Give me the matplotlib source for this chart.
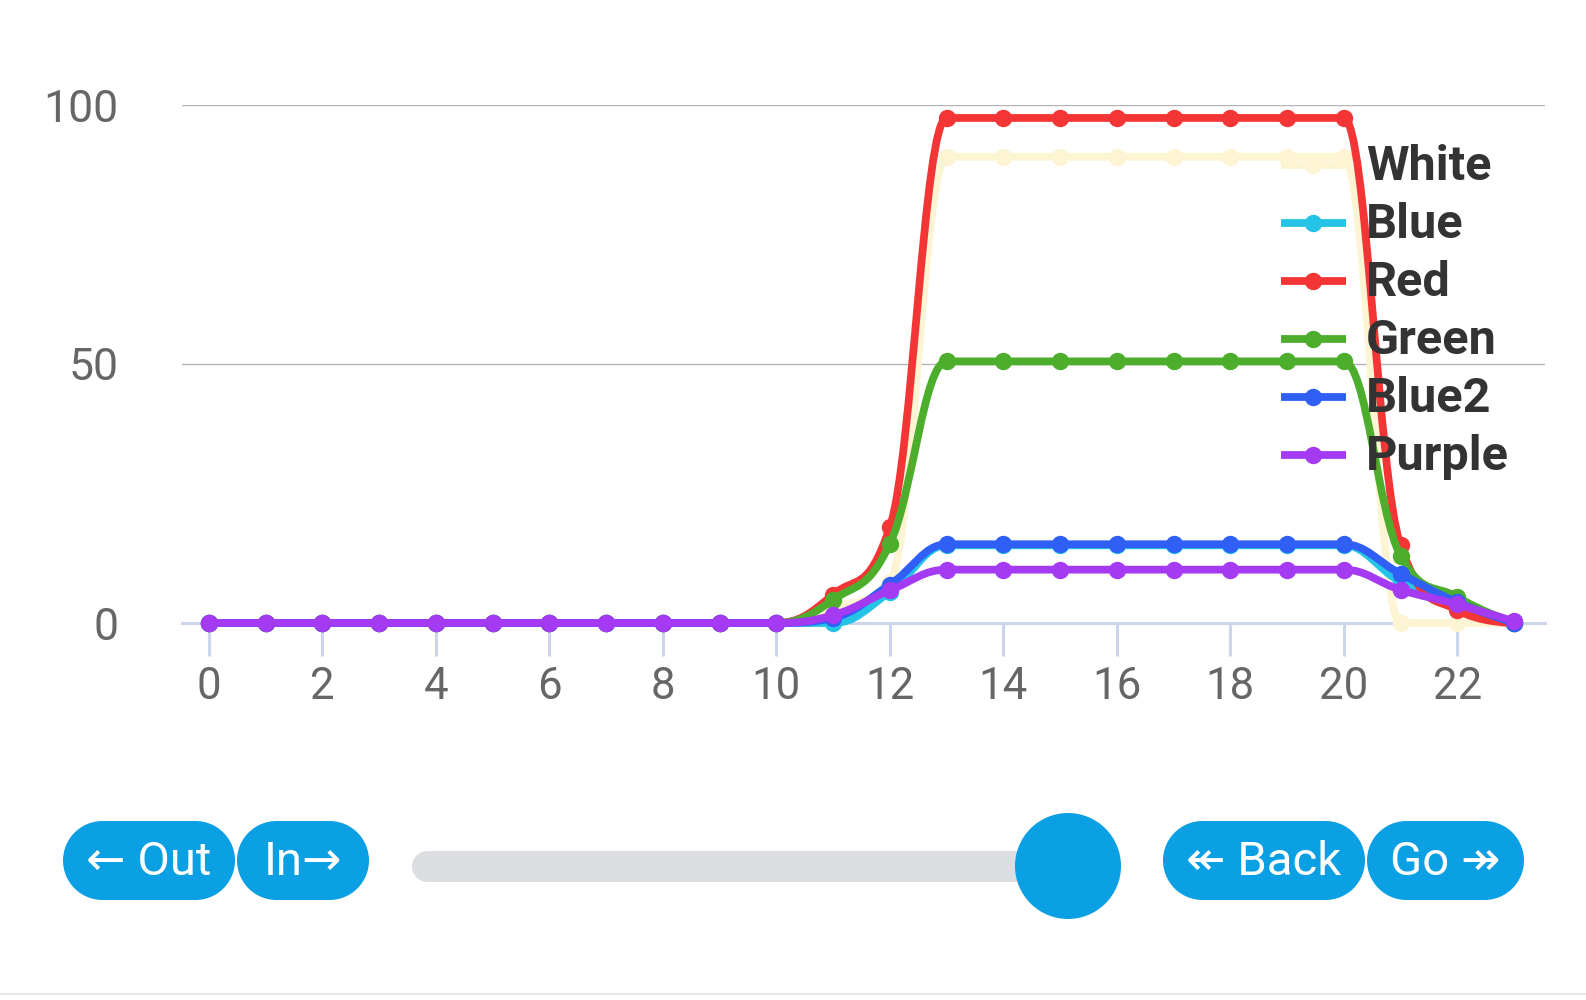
import numpy as np
import matplotlib
matplotlib.use('Agg')
import matplotlib.pyplot as plt
from matplotlib.path import Path
from matplotlib.patches import PathPatch, Rectangle, Circle
from matplotlib.lines import Line2D

plt.rcParams['font.family'] = ['Roboto', 'DejaVu Sans']

# dane
godziny = list(range(24))
white = [0] * 11 + [3, 8] + [90] * 8 + [0, 0, 0]
blue = [0] * 11 + [0, 6] + [15] * 8 + [8, 4, 0]
red = [0] * 11 + [5.5, 18.5] + [97.5] * 8 + [15, 2.5, 0]
green = [0] * 11 + [4.5, 15.3] + [50.5] * 8 + [13, 5, 0]
blue2 = [0] * 11 + [1, 7.4] + [15.2] * 8 + [9.5, 4, 0]
purple = [0] * 11 + [1.5, 6.3] + [10.3] * 8 + [6.4, 3.6, 0.3]

nazwy = ['White', 'Blue', 'Red', 'Green', 'Blue2', 'Purple']
serie = [white, blue, red, green, blue2, purple]
kolory = ['#fcf4d2', '#25c3e6', '#f43535', '#4cae2c', '#2f5ff5', '#a43af2']

x_ticki = list(range(0, 23, 2))
y_ticki = [0, 50, 100]


def spline(xs, ys, smoothing=1.5):
    # krzywa jak w highcharts (spline)
    n = len(xs)
    denom = smoothing + 1
    lewe = [None] * n
    prawe = [None] * n
    for i in range(n):
        x, y = xs[i], ys[i]
        if i == 0 or i == n - 1:
            lewe[i] = (x, y)
            prawe[i] = (x, y)
            continue
        lx, ly = xs[i - 1], ys[i - 1]
        nx, ny = xs[i + 1], ys[i + 1]
        lcx = (smoothing * x + lx) / denom
        lcy = (smoothing * y + ly) / denom
        rcx = (smoothing * x + nx) / denom
        rcy = (smoothing * y + ny) / denom
        corr = ((rcy - lcy) * (rcx - x)) / (rcx - lcx) + y - rcy
        lcy += corr
        rcy += corr
        if lcy > ly and lcy > y:
            lcy = max(ly, y)
            rcy = 2 * y - lcy
        elif lcy < ly and lcy < y:
            lcy = min(ly, y)
            rcy = 2 * y - lcy
        if rcy > ny and rcy > y:
            rcy = max(ny, y)
            lcy = 2 * y - rcy
        elif rcy < ny and rcy < y:
            rcy = min(ny, y)
            lcy = 2 * y - rcy
        lewe[i] = (lcx, lcy)
        prawe[i] = (rcx, rcy)
    verts = [(xs[0], ys[0])]
    codes = [Path.MOVETO]
    for i in range(1, n):
        verts += [prawe[i - 1], lewe[i], (xs[i], ys[i])]
        codes += [Path.CURVE4] * 3
    return Path(verts, codes)


def pigulka(a, x0, x1, yc, h, kolor):
    # zaokraglony przycisk: prostokat + dwa kola
    r = h / 2
    a.add_patch(Rectangle((x0 + r, yc - r), x1 - x0 - 2 * r, h, facecolor=kolor, edgecolor='none'))
    a.add_patch(Circle((x0 + r, yc), r, facecolor=kolor, edgecolor='none'))
    a.add_patch(Circle((x1 - r, yc), r, facecolor=kolor, edgecolor='none'))


fig = plt.figure(figsize=(15.86, 10), dpi=100)
W, H = 1586, 1000

# wykres
ax = fig.add_axes([182 / W, 1 - 623 / H, (1545 - 182) / W, (623 - 105) / H])
ax.set_xlim(-0.476, 23.546)
ax.set_ylim(0, 100)
for s in ['top', 'left', 'right']:
    ax.spines[s].set_visible(False)
ax.spines['bottom'].set_color('#ccd6eb')
ax.spines['bottom'].set_linewidth(2.2)
ax.set_xticks(x_ticki)
ax.set_yticks(y_ticki)
ax.set_yticklabels([str(v) for v in y_ticki])
ax.tick_params(axis='x', length=24, width=2.2, color='#ccd6eb', labelsize=31.5,
               labelcolor='#666666', pad=7)
ax.tick_params(axis='y', length=0, labelsize=32, labelcolor='#666666', pad=46)
ax.grid(axis='y', color='#b5b5b5', linewidth=1.0)
ax.set_axisbelow(True)

for dane, kolor in zip(serie, kolory):
    p = PathPatch(spline(godziny, dane), fill=False, edgecolor=kolor, linewidth=5.6,
                  capstyle='round', joinstyle='round', clip_on=False, zorder=3)
    ax.add_patch(p)
    ax.plot(godziny, dane, 'o', color=kolor, markersize=11.5, clip_on=False, zorder=3)

# nakladka w pikselach (legenda i przyciski), y liczone od gory
ov = fig.add_axes([0, 0, 1, 1], zorder=5)
ov.set_xlim(0, W)
ov.set_ylim(0, H)
ov.axis('off')
ov.patch.set_alpha(0)

for i, (nazwa, kolor) in enumerate(zip(nazwy, kolory)):
    y = H - (165 + 58 * i)
    ov.add_line(Line2D([1281, 1346], [y, y], color=kolor, linewidth=5.6, solid_capstyle='butt'))
    ov.plot([1313], [y], 'o', color=kolor, markersize=11.5)
    ov.text(1366, y - 2, nazwa, fontsize=35, fontweight='bold', color='#333333',
            va='center', ha='left')

niebieski = '#0aa0e3'
przyciski = [(63, 235, '\u2190 Out'), (237, 369, 'In\u2192'),
             (1163, 1365, '\u219e Back'), (1367, 1524, 'Go \u21a0')]
for x0, x1, napis in przyciski:
    pigulka(ov, x0, x1, H - 860.5, 79, niebieski)
    ov.text((x0 + x1) / 2, H - 862, napis, fontsize=34, color='white', ha='center', va='center')

# suwak
pigulka(ov, 412, 1068, H - 866.5, 31, '#dcdde1')
ov.add_patch(Circle((1068, H - 866), 53, facecolor=niebieski, edgecolor='none'))

ov.add_line(Line2D([0, W], [H - 994, H - 994], color='#e6e6e6', linewidth=1.5))

fig.savefig('out.png', dpi=100)
